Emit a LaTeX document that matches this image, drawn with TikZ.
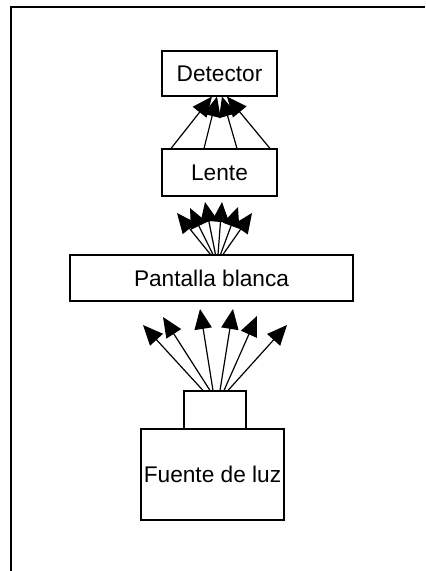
\documentclass[tikz,border=0pt]{standalone}
\usepackage{fontspec}
\setmainfont{Liberation Sans}
\usetikzlibrary{positioning, calc, arrows.meta}
\tikzset{
	ray/.style={line width=0.9pt, -{Triangle[length=15pt,width=13pt]}},
	block/.style={draw, line width=0.8pt, inner sep=0pt, font=\fontsize{17}{20}\selectfont},
}

\begin{document}
\begin{tikzpicture}[x=0.75pt, y=-0.75pt]
			\useasboundingbox (0,0) rectangle (425,571);
			\draw[line width=1.5pt] (11,571) |- (425,7);

			\node[block, minimum width=86.25pt, minimum height=33.75pt] (detector) at (219.5,73.5) {Detector};
			\node[block, minimum width=86.25pt, minimum height=35.25pt] (lente) at (219.5,172.5) {Lente};
			\node[block, minimum width=212.25pt, minimum height=34.5pt] (pantalla) at (211.5,278) {Pantalla blanca};
			\node[block, minimum width=46.5pt, minimum height=28.5pt] (emisor) at (215,410) {};
			\node[block, minimum width=107.25pt, minimum height=68.25pt] (fuente) at (212.5,474.5) {Fuente de luz};

			\draw[ray] ($(lente.north)+(-48.5,0)$) -- ($(detector.south)+(-7.5,0)$);
			\draw[ray] ($(lente.north)+(-15.5,0)$) -- ($(detector.south)+(-2.5,0)$);
			\draw[ray] ($(lente.north)+(17.5,0)$) -- ($(detector.south)+(2.5,0)$);
			\draw[ray] ($(lente.north)+(50.5,0)$) -- ($(detector.south)+(7.5,0)$);

			\coordinate (P1) at (177,213);
			\coordinate (P2) at (190,208);
			\coordinate (P3) at (205,202);
			\coordinate (P4) at (222,202);
			\coordinate (P5) at (238,207);
			\coordinate (P6) at (252,213);
			\draw[ray] ($(pantalla.north)+(-1,0)$) -- (P1);
			\draw[ray] ($(pantalla.north)+(1.5,0)$) -- (P2);
			\draw[ray] ($(pantalla.north)+(4,0)$) -- (P3);
			\draw[ray] ($(pantalla.north)+(6.5,0)$) -- (P4);
			\draw[ray] ($(pantalla.north)+(9,0)$) -- (P5);
			\draw[ray] ($(pantalla.north)+(11.5,0)$) -- (P6);

			\coordinate (F1) at (143,325);
			\coordinate (F2) at (163,317);
			\coordinate (F3) at (200,309);
			\coordinate (F4) at (233,309);
			\coordinate (F5) at (257,316);
			\coordinate (F6) at (287,325);
			\draw[ray] ($(emisor.north)+(-12,0)$) -- (F1);
			\draw[ray] ($(emisor.north)+(-5,0)$) -- (F2);
			\draw[ray] ($(emisor.north)+(-2,0)$) -- (F3);
			\draw[ray] ($(emisor.north)+(5,0)$) -- (F4);
			\draw[ray] ($(emisor.north)+(9,0)$) -- (F5);
			\draw[ray] ($(emisor.north)+(13,0)$) -- (F6);
		\end{tikzpicture}
\end{document}
